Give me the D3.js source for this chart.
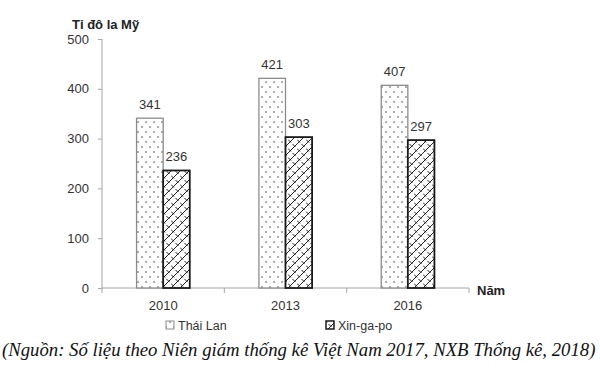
<!DOCTYPE html>
<html>
<head>
<meta charset="utf-8">
<script src="https://cdn.jsdelivr.net/npm/d3@7"></script>
<style>
  body { margin: 0; background: #fff; }
  svg text { font-family: "Liberation Sans", Arial, sans-serif; }
</style>
</head>
<body>
<div id="chart"></div>
<script>
// data
let years = ["2010", "2013", "2016"];
let seriesNames = ["Thái Lan", "Xin-ga-po"];
let thaiLan = [341, 421, 407];
let xinGaPo = [236, 303, 297];
let yTicks = [0, 100, 200, 300, 400, 500];

let width = 600, height = 374;
let plotLeft = 102, plotRight = 469, plotTop = 39, plotBottom = 288;

let svg = d3.select("#chart").append("svg")
  .attr("width", width)
  .attr("height", height);

// patterns
let defs = svg.append("defs");
let dots = defs.append("pattern")
  .attr("id", "dots")
  .attr("patternUnits", "userSpaceOnUse")
  .attr("width", 8).attr("height", 10);
dots.append("rect").attr("width", 8).attr("height", 10).attr("fill", "#fff");
dots.append("circle").attr("cx", 2).attr("cy", 2).attr("r", 0.8).attr("fill", "#444");
dots.append("circle").attr("cx", 6).attr("cy", 7).attr("r", 0.8).attr("fill", "#444");

let hatch = defs.append("pattern")
  .attr("id", "hatch")
  .attr("patternUnits", "userSpaceOnUse")
  .attr("width", 9).attr("height", 9);
hatch.append("rect").attr("width", 9).attr("height", 9).attr("fill", "#fff");
hatch.append("path")
  .attr("d", "M-1,10 L10,-1 M-1,1 L1,-1 M8,10 L10,8 M0,4.5 L3,7.5 M4.5,0 L7.5,3")
  .attr("stroke", "#222")
  .attr("stroke-width", 1)
  .attr("fill", "none");

// scales
let x = d3.scaleBand().domain(years).range([plotLeft, plotRight]);
let y = d3.scaleLinear().domain([0, 500]).range([plotBottom, plotTop]);
let sub = d3.scaleBand().domain(seriesNames).range([0, x.bandwidth()]).paddingInner(0).paddingOuter(1.3);

// y axis
let yAxis = svg.append("g")
  .attr("transform", `translate(${plotLeft},0)`)
  .call(d3.axisLeft(y).tickValues(yTicks).tickSize(4).tickPadding(9));
yAxis.select(".domain").attr("stroke", "#a6a6a6").attr("d", `M0,${plotTop}V${plotBottom}`);
yAxis.selectAll(".tick line").attr("stroke", "#a6a6a6");
yAxis.selectAll("text").attr("font-size", 13).attr("fill", "#333");

// x axis
let xAxis = svg.append("g")
  .attr("transform", `translate(0,${plotBottom})`)
  .call(d3.axisBottom(x).tickSize(0).tickPadding(13));
xAxis.select(".domain").attr("stroke", "#a6a6a6").attr("d", `M${plotLeft},0H${plotRight}`);
xAxis.selectAll("text").attr("font-size", 13).attr("fill", "#333");
svg.append("g").selectAll("line")
  .data(years.concat(["end"]))
  .join("line")
  .attr("x1", (d, i) => plotLeft + i * x.step())
  .attr("x2", (d, i) => plotLeft + i * x.step())
  .attr("y1", plotBottom).attr("y2", plotBottom + 5)
  .attr("stroke", "#a6a6a6");

// bars
let series = [
  { name: "Thái Lan", values: thaiLan, fill: "url(#dots)", stroke: "#8c8c8c", sw: 1.3 },
  { name: "Xin-ga-po", values: xinGaPo, fill: "url(#hatch)", stroke: "#1a1a1a", sw: 1.8 }
];

series.forEach(s => {
  let g = svg.append("g");
  g.selectAll("rect")
    .data(s.values)
    .join("rect")
    .attr("x", (d, i) => x(years[i]) + sub(s.name))
    .attr("y", d => y(d))
    .attr("width", sub.bandwidth())
    .attr("height", d => y(0) - y(d))
    .attr("fill", s.fill)
    .attr("stroke", s.stroke)
    .attr("stroke-width", s.sw);
  g.selectAll("text")
    .data(s.values)
    .join("text")
    .attr("x", (d, i) => x(years[i]) + sub(s.name) + sub.bandwidth() / 2)
    .attr("y", d => y(d) - 9)
    .attr("text-anchor", "middle")
    .attr("font-size", 13)
    .attr("fill", "#333")
    .text(d => d);
});

// axis titles
svg.append("text")
  .attr("x", 72).attr("y", 29)
  .attr("font-size", 13).attr("font-weight", "bold").attr("fill", "#222")
  .text("Tỉ đô la Mỹ");
svg.append("text")
  .attr("x", 477).attr("y", 295)
  .attr("font-size", 13).attr("font-weight", "bold").attr("fill", "#222")
  .text("Năm");

// legend
let legendX = [166, 326];
series.forEach((s, i) => {
  svg.append("rect")
    .attr("x", legendX[i]).attr("y", 321)
    .attr("width", 8).attr("height", 8)
    .attr("fill", s.fill)
    .attr("stroke", s.stroke)
    .attr("stroke-width", i === 0 ? 1 : 1.5);
  svg.append("text")
    .attr("x", legendX[i] + 12).attr("y", 330)
    .attr("font-size", 12.5).attr("fill", "#333")
    .text(s.name);
});

// source note
let note = svg.append("text")
  .attr("x", 2).attr("y", 356)
  .style("font-family", "'Liberation Serif', 'Times New Roman', serif")
  .style("font-style", "italic")
  .attr("font-size", 17)
  .attr("fill", "#111")
  .text("(Nguồn: Số liệu theo Niên giám thống kê Việt Nam 2017, NXB Thống kê, 2018)");
let len = note.node().getComputedTextLength();
note.attr("font-size", 17 * 594 / len);
</script>
</body>
</html>
